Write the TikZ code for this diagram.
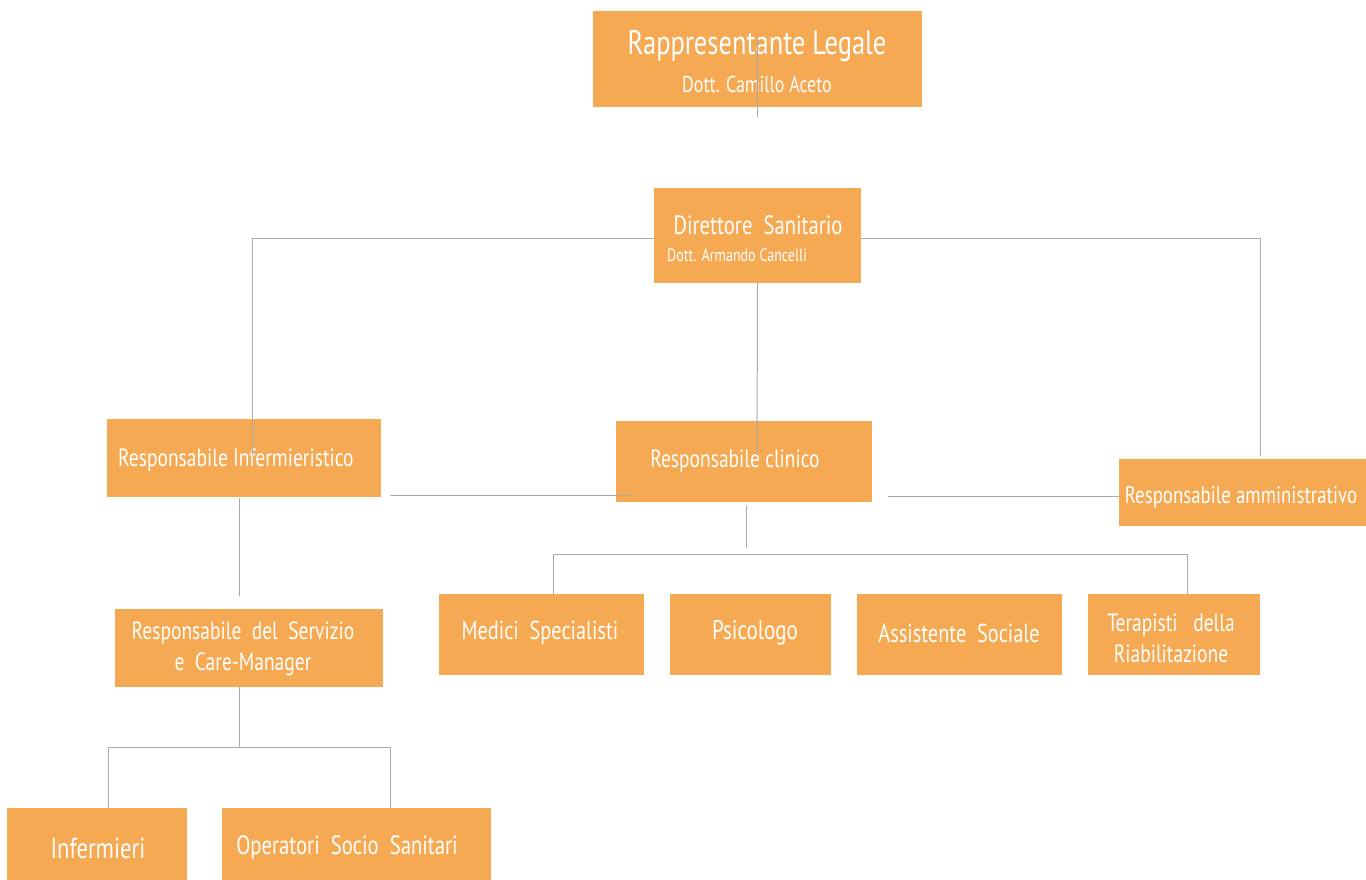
\documentclass[tikz,border=0pt]{standalone}
\usepackage{fontspec}
\setmainfont[FakeStretch=0.78]{PT Sans}
\usetikzlibrary{positioning, calc}
\definecolor{boxorange}{RGB}{245,169,82}
\definecolor{linegray}{RGB}{170,170,170}
\tikzset{
    orgbox/.style={fill=boxorange, draw=none, inner sep=0pt},
    orgtext/.style={text=white, inner sep=0pt, font=\fontsize{25}{31}\selectfont},
    orgline/.style={draw=linegray, line width=1pt}
}

\begin{document}
\begin{tikzpicture}[x=1pt,y=-1pt]
\useasboundingbox (0,0) rectangle (1366,880);

% boxes
\node[orgbox, minimum width=329pt, minimum height=96pt] (legale) at (757.5,59) {};
\node[orgbox, minimum width=207pt, minimum height=95pt] (direttore) at (757.5,235.5) {};
\node[orgbox, minimum width=274pt, minimum height=78pt] (infresp) at (244,458) {};
\node[orgbox, minimum width=256pt, minimum height=81pt] (clinico) at (744,461.5) {};
\node[orgbox, minimum width=247pt, minimum height=67pt] (ammin) at (1242.5,492.5) {};
\node[orgbox, minimum width=205pt, minimum height=81pt] (medici) at (541.5,634.5) {};
\node[orgbox, minimum width=161pt, minimum height=81pt] (psicologo) at (750.5,634.5) {};
\node[orgbox, minimum width=205pt, minimum height=81pt] (assistente) at (959.5,634.5) {};
\node[orgbox, minimum width=172pt, minimum height=81pt] (terapisti) at (1174,634.5) {};
\node[orgbox, minimum width=268pt, minimum height=78pt] (caremgr) at (249,648) {};
\node[orgbox, minimum width=180pt, minimum height=74pt] (infermieri) at (97,845) {};
\node[orgbox, minimum width=269pt, minimum height=74pt] (operatori) at (356.5,845) {};

% texts
\node[orgtext, font=\fontsize{34}{40}\selectfont] (legaletit) at (757,46) {Rappresentante Legale};
\node[orgtext, font=\fontsize{23}{27}\selectfont] (legalenome) at (757,84) {Dott. Camillo Aceto};
\node[orgtext, font=\fontsize{26.5}{31}\selectfont] (direttoretit) at (758,225) {Direttore\ \ Sanitario};
\node[orgtext, font=\fontsize{18}{22}\selectfont, anchor=west] (direttorenome) at (667,255) {Dott. Armando Cancelli};
\node[orgtext, anchor=west] (infresptit) at (118,460) {Responsabile Infermieristico};
\node[orgtext] (clinicotit) at (735,461) {Responsabile clinico};
\node[orgtext, font=\fontsize{24.2}{30}\selectfont] (ammintit) at (1241,497) {Responsabile amministrativo};
\node[orgtext, font=\fontsize{26}{31}\selectfont] (medicitit) at (540,633) {Medici\ \ Specialisti};
\node[orgtext, font=\fontsize{27}{31}\selectfont] (psicologotit) at (755,633) {Psicologo};
\node[orgtext, font=\fontsize{26}{31}\selectfont] (assistentetit) at (959,633) {Assistente\ \ Sociale};
\node[orgtext, align=center] (terapistitit) at (1171,638) {Terapisti\ \ \ della\\Riabilitazione};
\node[orgtext, align=center] (caremgrtit) at (243,649) {Responsabile\ \ del\ \ Servizio\\e\ \ Care-Manager};
\node[orgtext, font=\fontsize{29}{33}\selectfont] (infermieritit) at (98,848) {Infermieri};
\node[orgtext, font=\fontsize{26.5}{31}\selectfont] (operatorititit) at (347,848) {Operatori\ \ Socio\ \ Sanitari};

% free ends
\coordinate (legtop) at (757,37);
\coordinate (legbot) at (757,117);
\coordinate (infend) at (252,455);
\coordinate (clinend) at (757,455);
\coordinate (ammend) at (1260,456);
\coordinate (infclinA) at (390,495);
\coordinate (infclinB) at (633,495);
\coordinate (clinamm) at (888,496);
\coordinate (infcareA) at (239,498);
\coordinate (infcareB) at (239,596);
\coordinate (clinbusA) at (746,505);
\coordinate (clinbusB) at (746,548);

% connectors
\draw[orgline] (legtop) -- (legbot);
\draw[orgline] ([yshift=-2.5pt]direttore.west) -| (infend);
\draw[orgline] ([yshift=-2.5pt]direttore.east) -| (ammend);
\draw[orgline] (direttore.south) -- (clinend);
\draw[orgline] (infclinA) -- (infclinB);
\draw[orgline] (clinamm) -- ([yshift=-3.5pt]ammin.west);
\draw[orgline] (infcareA) -- (infcareB);
\draw[orgline] (clinbusA) -- (clinbusB);
\draw[orgline] ([xshift=11.5pt]medici.north) -- ++(0,-39) -| ([xshift=13pt]terapisti.north);
\draw[orgline] ([xshift=-10pt]caremgr.south) -- ++(0,60) coordinate (carebus);
\draw[orgline] (carebus) -| ([xshift=11pt]infermieri.north);
\draw[orgline] (carebus) -| ([xshift=33.5pt]operatori.north);

\end{tikzpicture}
\end{document}
